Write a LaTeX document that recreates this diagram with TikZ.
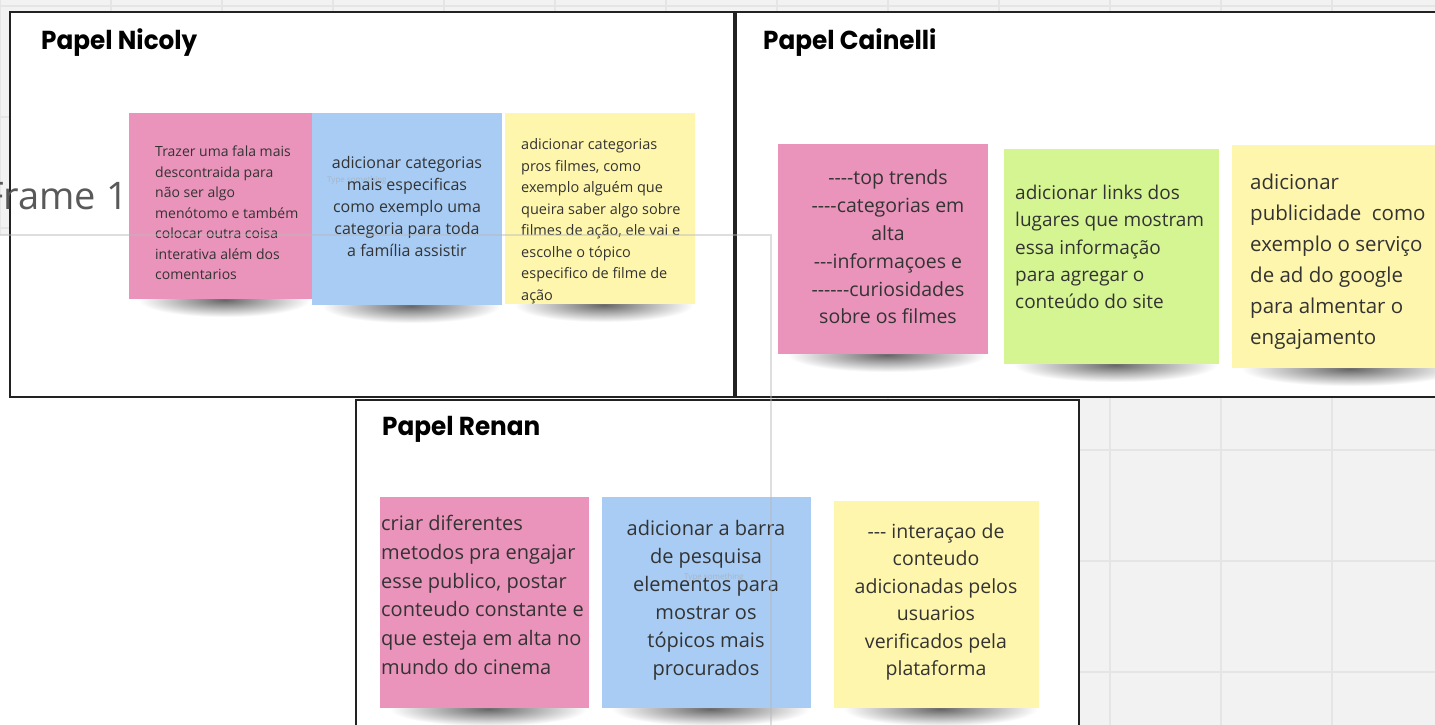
\documentclass[tikz,border=0pt]{standalone}
\usepackage{fontspec}
\setmainfont{Open Sans}
\newfontfamily\titlefont{Poppins}[FakeStretch=0.95]
\usetikzlibrary{fadings}
\definecolor{bgc}{HTML}{F2F2F2}
\definecolor{gridc}{HTML}{E5E5E5}
\definecolor{pinknote}{HTML}{EA94BC}
\definecolor{bluenote}{HTML}{A8CCF4}
\definecolor{yellownote}{HTML}{FEF6AC}
\definecolor{greennote}{HTML}{D5F593}
\definecolor{frameline}{HTML}{222222}
\definecolor{notetext}{HTML}{333333}
\definecolor{faintline}{HTML}{B8B8B8}
\newcommand\hy{-\kern0pt}
\tikzfading[name=shadowfade, inner color=transparent!0, outer color=transparent!100]
\tikzset{
  framebox/.style={draw=frameline, line width=2.2pt, fill=white},
  notebox/.style={inner sep=0pt, outer sep=0pt, draw=none},
  notetxt/.style={inner sep=0pt, text=notetext},
  titletxt/.style={inner sep=0pt, anchor=base west, text=black, font=\titlefont\bfseries\fontsize{26}{26}\selectfont},
  hinttxt/.style={inner sep=0pt, anchor=west, text=gray!70, opacity=0.6, font=\fontsize{8}{8}\selectfont},
  shadowbar/.style={fill=black, opacity=0.6, path fading=shadowfade, fit fading=true}
}
\newcommand\NoteBox[6]{%
  \fill[shadowbar] (#3+10,#6-16) rectangle (#5-2,#6+18);
  \node[notebox, fill=#2, minimum width={(#5-#3)*1pt}, minimum height={(#6-#4)*1pt}] (#1) at ({(#3+#5)/2},{(#4+#6)/2}) {};
}
\begin{document}
\begin{tikzpicture}[x=1pt,y=-1pt]
\path[use as bounding box, clip] (0,0) rectangle (1435,725);
% canvas
\fill[bgc] (0,0) rectangle (1435,725);
\foreach \gx in {0,111,...,1443} {\draw[gridc, line width=1.6pt] (\gx,0) -- (\gx,725);}
\foreach \gy in {6,117,...,725} {\draw[gridc, line width=1.6pt] (0,\gy) -- (1435,\gy);}
% Frame 1 area
\fill[white] (-5,235) rectangle (771,730);
% frames
\node[framebox, minimum width=724pt, minimum height=385pt, inner sep=0pt] (fNicoly) at (372,204.5) {};
\node[framebox, minimum width=720pt, minimum height=385pt, inner sep=0pt] (fCainelli) at (1096,204.5) {};
\node[framebox, minimum width=723pt, minimum height=340pt, inner sep=0pt] (fRenan) at (717.5,570) {};
% titles
\node[titletxt] (tNicoly) at (41,50) {Papel Nicoly};
\node[titletxt] (tCainelli) at (763,50) {Papel Cainelli};
\node[titletxt] (tRenan) at (382,435) {Papel Renan};
% notes Nicoly
\NoteBox{np}{pinknote}{129}{113}{312}{299}
\NoteBox{nb}{bluenote}{312}{113}{502}{305}
\NoteBox{ny}{yellownote}{505}{113}{695}{304}
% notes Cainelli
\NoteBox{cp}{pinknote}{778}{144}{988}{354}
\NoteBox{cg}{greennote}{1004}{149}{1219}{364}
\NoteBox{cy}{yellownote}{1232}{145}{1460}{368}
% notes Renan
\NoteBox{rp}{pinknote}{380}{497}{589}{708}
\NoteBox{rb}{bluenote}{602}{497}{811}{708}
\NoteBox{ry}{yellownote}{834}{501}{1039}{708}
% hints
\node[hinttxt] (h1) at (327,180) {Type something};
\node[hinttxt] (h2) at (684,577) {Type something};
% note texts
\node[notetxt, anchor=west, align=left, font=\fontsize{14}{20.5}\selectfont] (tnp) at (155,213) {Trazer uma fala mais\\descontraida para\\não ser algo\\menótomo e também\\colocar outra coisa\\interativa além dos\\comentarios};
\node[notetxt, align=center, font=\fontsize{16}{22}\selectfont] (tnb) at (407,206) {adicionar categorias\\mais especificas\\como exemplo uma\\categoria para toda\\a família assistir};
\node[notetxt, anchor=west, align=left, font=\fontsize{14.5}{21.5}\selectfont] (tny) at (521,221) {adicionar categorias\\pros filmes, como\\exemplo alguém que\\queira saber algo sobre\\filmes de ação, ele vai e\\escolhe o tópico\\especifico de filme de\\ação};
\node[notetxt, align=center, font=\fontsize{19.5}{27.8}\selectfont] (tcp) at (888,247) {\hy\hy\hy-top trends\\\hy\hy\hy-categorias em\\alta\\\hy\hy-informaçoes e\\\hy\hy\hy\hy\hy-curiosidades\\sobre os filmes};
\node[notetxt, anchor=west, align=left, font=\fontsize{19}{27.3}\selectfont] (tcg) at (1015,247) {adicionar links dos\\lugares que mostram\\essa informação\\para agregar o\\conteúdo do site};
\node[notetxt, anchor=west, align=left, font=\fontsize{20.5}{31}\selectfont] (tcy) at (1250,262) {adicionar\\publicidade\ \ como\\exemplo o serviço\\de ad do google\\para almentar o\\engajamento};
\node[notetxt, anchor=west, align=left, font=\fontsize{20}{28.8}\selectfont] (trp) at (381,595) {criar diferentes\\metodos pra engajar\\esse publico, postar\\conteudo constante e\\que esteja em alta no\\mundo do cinema};
\node[notetxt, align=center, font=\fontsize{20}{28}\selectfont] (trb) at (706,600) {adicionar a barra\\de pesquisa\\elementos para\\mostrar os\\tópicos mais\\procurados};
\node[notetxt, align=center, font=\fontsize{19.5}{27.4}\selectfont] (try) at (936,602) {\hy\hy- interaçao de\\conteudo\\adicionadas pelos\\usuarios\\verificados pela\\plataforma};
% Frame 1 overlay
\coordinate (f1a) at (0,235);
\coordinate (f1b) at (771,235);
\coordinate (f1c) at (771,725);
\draw[faintline, line width=1.5pt, opacity=0.45] (f1a) -- (f1b) -- (f1c);
\node[inner sep=0pt, anchor=base east, text=black!65, font=\fontsize{38}{38}\selectfont] (frame1) at (128,209) {Frame 1};
\end{tikzpicture}
\end{document}
